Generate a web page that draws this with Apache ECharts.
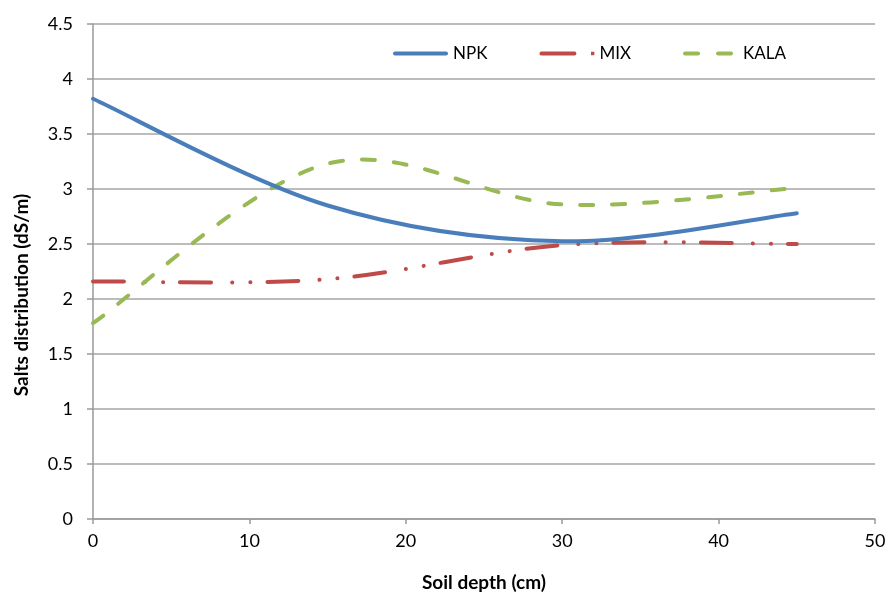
<!DOCTYPE html>
<html>
<head>
<meta charset="utf-8">
<script src="https://cdn.jsdelivr.net/npm/echarts@6/dist/echarts.min.js"></script>
<style>
html,body{margin:0;padding:0;background:#fff;}
#chart{width:889px;height:593px;}
</style>
</head>
<body>
<div id="chart"></div>
<script>
const depths = [0, 15, 30, 45];
const npk = [3.82, 2.85, 2.525, 2.78];
const mix = [2.16, 2.18, 2.49, 2.50];
const kala = [1.78, 3.23, 2.86, 3.01];
const seriesNames = ['NPK', 'MIX', 'KALA'];
const xTitle = 'Soil depth (cm)';
const yTitle = 'Salts distribution (dS/m)';

const seriesValues = [npk, mix, kala];
const colors = ['#4a7ebb', '#be4b48', '#98b954'];
const dashes = [null, [31, 21, 0.1, 18, 0.1, 17], [13, 19]];

function pairs(vals){ return depths.map((d,i)=>[d, vals[i]]); }

// Excel-like smoothed path (Catmull-Rom, tension 1/6) through library coordinates
function makeRenderItem(si){
  return function(params, api){
    if (params.dataIndex !== 0) return null;
    const vals = seriesValues[si];
    const p = depths.map((d,i)=>api.coord([d, vals[i]]));
    const n = p.length;
    let d = 'M' + p[0][0] + ' ' + p[0][1];
    for (let i = 0; i < n-1; i++){
      const p0 = p[Math.max(i-1,0)], p1 = p[i], p2 = p[i+1], p3 = p[Math.min(i+2,n-1)];
      const c1x = p1[0] + (p2[0]-p0[0])/6, c1y = p1[1] + (p2[1]-p0[1])/6;
      const c2x = p2[0] - (p3[0]-p1[0])/6, c2y = p2[1] - (p3[1]-p1[1])/6;
      d += ' C' + c1x + ' ' + c1y + ' ' + c2x + ' ' + c2y + ' ' + p2[0] + ' ' + p2[1];
    }
    return {
      type: 'path',
      shape: {pathData: d},
      style: {fill: 'none', stroke: colors[si], lineWidth: 4, lineCap: 'round', lineJoin: 'round',
              lineDash: dashes[si] || null}
    };
  };
}

const icons = [
  'path://M2,0h51a2,2 0 0 1 0,4h-51a2,2 0 0 1 0,-4z',
  'path://M2,0h33a2,2 0 0 1 0,4h-33a2,2 0 0 1 0,-4z M51.5,0.3h3.4v3.4h-3.4z M0,0h0.01v4h-0.01z M55,0h0.01v4h-0.01z',
  'path://M2,0h13a2,2 0 0 1 0,4h-13a2,2 0 0 1 0,-4z M35,0h13a2,2 0 0 1 0,4h-13a2,2 0 0 1 0,-4z M0,0h0.01v4h-0.01z M55,0h0.01v4h-0.01z'
];

const chart = echarts.init(document.getElementById('chart'));
const font = 'Lato, "Open Sans", sans-serif';
chart.setOption({
  animation: false,
  backgroundColor: '#fff',
  grid: {left: 93, right: 14, top: 24, bottom: 74, containLabel: false, outerBoundsMode: 'none'},
  legend: {
    data: seriesNames.map((nm,i)=>({name: nm, icon: icons[i], itemStyle: {color: colors[i]}})),
    top: 40, left: 388,
    itemWidth: 55, itemHeight: 4, itemGap: 52,
    textStyle: {fontFamily: font, fontSize: 17, color: '#000'}
  },
  xAxis: {
    type: 'value', min: 0, max: 50, interval: 10,
    name: xTitle, nameLocation: 'middle', nameGap: 54,
    nameTextStyle: {fontFamily: font, fontSize: 19, fontWeight: 'bold', color: '#000'},
    axisLine: {show: true, lineStyle: {color: '#9a9a9a', width: 1.5}},
    axisTick: {show: true, length: 5, lineStyle: {color: '#9a9a9a', width: 1.5}},
    axisLabel: {fontFamily: font, fontSize: 18, color: '#000', margin: 13},
    splitLine: {show: false}
  },
  yAxis: {
    type: 'value', min: 0, max: 4.5, interval: 0.5,
    axisLine: {show: true, lineStyle: {color: '#9a9a9a', width: 1.5}},
    axisTick: {show: true, length: 6, lineStyle: {color: '#9a9a9a', width: 1.5}},
    axisLabel: {fontFamily: font, fontSize: 18, color: '#000', margin: 20},
    splitLine: {show: true, lineStyle: {color: '#a6a6a6', width: 1.5}}
  },
  graphic: [{
    type: 'text', x: 22, y: 295, rotation: Math.PI/2,
    style: {text: yTitle, fontFamily: font, fontSize: 19, fontWeight: 'bold', fill: '#000',
            align: 'center', verticalAlign: 'middle'}
  }],
  series: seriesNames.map((nm,i)=>({
    name: nm, type: 'custom', data: pairs(seriesValues[i]),
    renderItem: makeRenderItem(i), itemStyle: {color: colors[i]},
    z: i === 0 ? 3 : 2, clip: false
  }))
});
</script>
</body>
</html>
